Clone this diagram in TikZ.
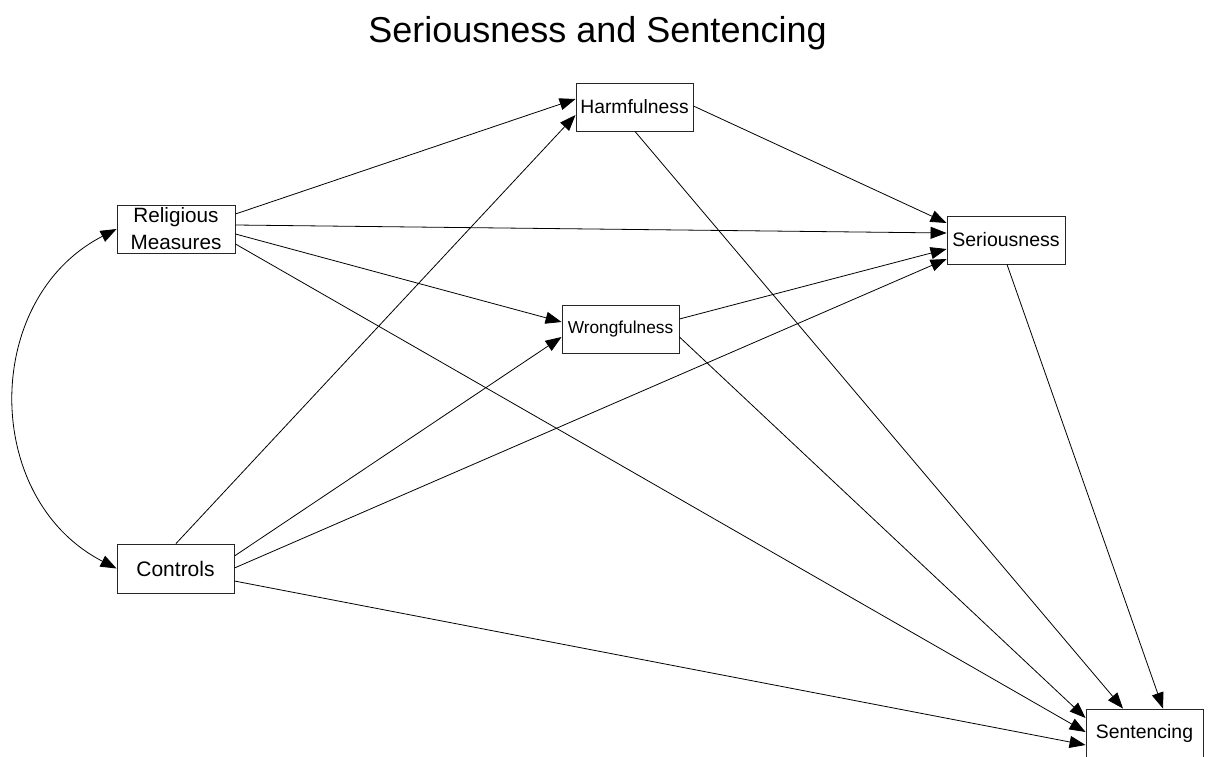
\documentclass[tikz,border=0pt]{standalone}
\usepackage{fontspec}
\setmainfont{Liberation Sans}
\usetikzlibrary{arrows.meta,calc}
\begin{document}
\begin{tikzpicture}[x=1pt,y=-1pt,
  box/.style={draw=black!85, line width=0.9pt, fill=white, rectangle, inner sep=0pt,
    minimum width=117pt, minimum height=48pt, align=center},
  conn/.style={draw=black, line width=0.8pt, -{Triangle[length=16pt,width=12pt]}},
  dconn/.style={draw=black, line width=0.8pt, {Triangle[length=16pt,width=12pt]}-{Triangle[length=16pt,width=12pt]}},
]
\useasboundingbox (0,0) rectangle (1212,757);
\fill[white] (0,0) rectangle (1212,757);

\node[font=\fontsize{36}{40}\selectfont, anchor=base] (title) at (597.5,43) {Seriousness and Sentencing};

\node[box, minimum width=118pt, font=\fontsize{20.7}{27}\selectfont] (rm) at (176,229) {Religious\\Measures};
\node[box, font=\fontsize{21}{24}\selectfont, minimum height=49pt] (ctrl) at (175.5,568.5) {Controls};
\node[box, font=\fontsize{19.3}{22}\selectfont] (harm) at (634.5,107) {Harmfulness};
\node[box, font=\fontsize{17.3}{20}\selectfont] (wrong) at (620.5,329) {Wrongfulness};
\node[box, minimum width=118pt, font=\fontsize{19.5}{22}\selectfont] (ser) at (1006,240) {Seriousness};
\node[box, font=\fontsize{19.4}{22}\selectfont] (sent) at (1144.5,733) {Sentencing};

% Religious Measures
\draw[conn] ([yshift=15pt]rm.east) -- ([yshift=8pt]harm.west);
\draw[conn] ([yshift=4pt]rm.east) -- ([yshift=7pt]ser.west);
\draw[conn] ([yshift=-5pt]rm.east) -- ([yshift=7pt]wrong.west);
\draw[conn] ([yshift=-15pt]rm.east) -- ([yshift=1pt]sent.west);
% Controls
\draw[conn] ([xshift=0.5pt]ctrl.north) -- ([yshift=-8pt]harm.west);
\draw[conn] ([yshift=12.5pt]ctrl.east) -- ([yshift=-8pt]wrong.west);
\draw[conn] ([yshift=0.5pt]ctrl.east) -- ([yshift=-19pt]ser.west);
\draw[conn] ([yshift=-12.5pt]ctrl.east) -- ([yshift=-12pt]sent.west);
% Harmfulness
\draw[conn] ([yshift=1pt]harm.east) -- ([yshift=17pt]ser.west);
\draw[conn] ([xshift=0.5pt]harm.south) -- ([xshift=-21.5pt]sent.north);
% Wrongfulness
\draw[conn] ([yshift=10pt]wrong.east) -- ([yshift=-9pt]ser.west);
\draw[conn] ([yshift=-8pt]wrong.east) -- ([yshift=15pt]sent.west);
% Seriousness
\draw[conn] ([xshift=1pt]ser.south) -- ([xshift=18.5pt]sent.north);
% covariance
\draw[dconn] (rm.west) .. controls ($(rm.west)+(-135,69.5)$) and ($(ctrl.west)+(-135,-69.5)$) .. (ctrl.west);
\end{tikzpicture}
\end{document}
